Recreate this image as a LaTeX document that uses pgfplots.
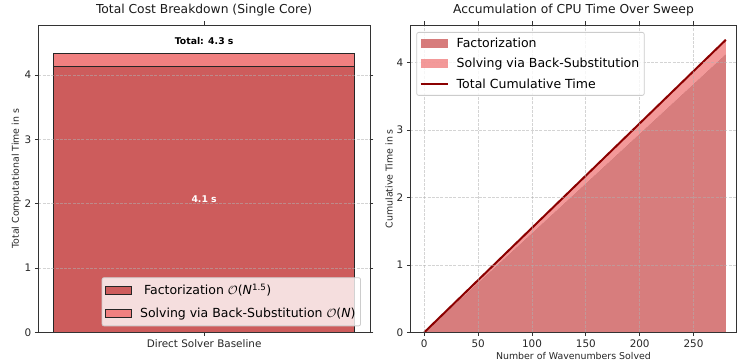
\documentclass[border=0pt]{standalone}
\usepackage{fontspec}
\setmainfont{DejaVu Sans}
\usepackage{pgfplots}
\pgfplotsset{compat=1.18}
\definecolor{indred}{RGB}{205,92,92}
\definecolor{lcoral}{RGB}{240,128,128}
\definecolor{dred}{RGB}{139,0,0}
\definecolor{gridc}{RGB}{176,176,176}
\definecolor{legedge}{RGB}{204,204,204}
\pgfplotsset{
  patchleg/.style={legend image code/.code={\fill[##1, sharp corners] (0pt,-4.5pt) rectangle (27pt,4.5pt);}},
  lineleg/.style={legend image code/.code={\draw[##1, sharp corners] (0pt,0pt) -- (27pt,0pt);}},
  barleg/.style={legend image code/.code={\draw[##1, fill opacity=1, sharp corners, line width=1pt] (0pt,-4pt) rectangle (26pt,4pt);}},
  common/.style={
    scale only axis,
    anchor=south west,
    axis on top,
    axis line style={line width=0.8pt, black!80},
    tick align=outside,
    major tick length=3.5pt,
    tick style={line width=0.8pt, black!80},
    tick label style={font=\fontsize{10.4}{12}\selectfont, black!85},
    label style={font=\fontsize{9.4}{11}\selectfont, black!85},
    title style={font=\fontsize{12.3}{14}\selectfont, black!90, yshift=-1pt},
    /pgf/number format/assume math mode=true,
    major grid style={gridc, opacity=0.55, dash pattern=on 3pt off 1.3pt, line width=0.8pt},
    legend style={font=\fontsize{12.5}{15}\selectfont, draw=legedge, rounded corners=2pt, fill=white, fill opacity=0.8, text opacity=1, line width=0.8pt,
      /tikz/every odd column/.append style={column sep=6pt}},
    legend cell align=left,
  }
}
\begin{document}
\begin{tikzpicture}
\useasboundingbox (0,0) rectangle (737pt,362pt);
\begin{axis}[common,
  at={(38.3pt,29.7pt)}, width=331.7pt, height=307.3pt,
  xmin=-0.44, xmax=0.44, ymin=0, ymax=4.78,
  xtick={0}, xticklabels={Direct Solver Baseline},
  ytick={0,1,2,3,4},
  ymajorgrids,
  ybar stacked, bar width=0.8,
  ylabel={Total Computational Time in s},
  ylabel style={yshift=-3pt},
  title={Total Cost Breakdown (Single Core)},
  legend style={at={(1,0)}, anchor=south east, xshift=-9pt, yshift=6pt, row sep=8pt, inner ysep=4.5pt},
  after end axis/.code={
    \node[text=white, font=\fontsize{9.3}{11}\selectfont\bfseries] at (axis cs:0,2.065) {4.1 s};
    \node[text=black, anchor=south, font=\fontsize{9.3}{11}\selectfont\bfseries] at (axis cs:0,4.42) {Total: 4.3 s};
  },
]
\addplot[fill=indred, draw=black!85, line width=1pt, barleg] coordinates {(0,4.13)};
\addlegendentry{\ Factorization $\mathcal{O}$(\textit{N}\textsuperscript{1.5})}
\addplot[fill=lcoral, draw=black!85, line width=1pt, barleg] coordinates {(0,0.21)};
\addlegendentry{Solving via Back-Substitution $\mathcal{O}$(\textit{N})}
\end{axis}
\begin{axis}[common,
  at={(410.3pt,29.7pt)}, width=326.3pt, height=307.3pt,
  xmin=-13, xmax=290, ymin=0, ymax=4.56,
  xtick={0,50,100,150,200,250}, ytick={0,1,2,3,4},
  xmajorgrids, ymajorgrids,
  xlabel={Number of Wavenumbers Solved},
  ylabel={Cumulative Time in s},
  xlabel style={yshift=2pt},
  ylabel style={yshift=-3pt},
  title={Accumulation of CPU Time Over Sweep},
  legend style={at={(0,1)}, anchor=north west, xshift=6pt, yshift=-7pt, row sep=5.5pt, inner ysep=3.5pt},
]
\addplot[draw=none, fill=indred, fill opacity=0.8, patchleg]
  coordinates {(0,0) (280,4.13) (280,0)} -- cycle;
\addlegendentry{Factorization}
\addplot[draw=none, fill=lcoral, fill opacity=0.8, patchleg]
  coordinates {(0,0) (280,4.34) (280,4.13)} -- cycle;
\addlegendentry{Solving via Back-Substitution}
\addplot[dred, line width=2pt, no markers, lineleg]
  coordinates {(0,0) (280,4.34)};
\addlegendentry{Total Cumulative Time}
\end{axis}
\end{tikzpicture}
\end{document}
